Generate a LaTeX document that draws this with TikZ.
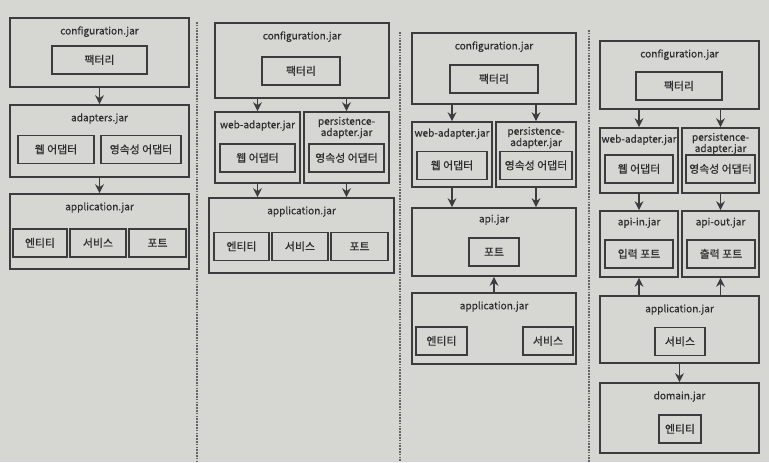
\documentclass[tikz,border=0pt]{standalone}
\usepackage{fontspec}
\usepackage{tikz}
\usetikzlibrary{arrows.meta, positioning, calc, fit}
\setmainfont{Noto Sans CJK KR}[FakeBold=0.5]
\definecolor{paper}{HTML}{D6D6D3}
\definecolor{boxline}{HTML}{3C3C3C}
\definecolor{inkgray}{HTML}{2E2E2E}

\begin{document}
\begin{tikzpicture}[
    x=0.03cm, y=-0.03cm,
    font=\fontsize{8.6}{9.6}\selectfont,
    jarbox/.style={rectangle, draw=boxline, line width=1.6pt, inner sep=0pt},
    partbox/.style={rectangle, draw=boxline, line width=1.6pt, inner sep=0pt, text=inkgray, font=\fontsize{9.3}{10}\selectfont, text height=7.9pt, text depth=1.2pt, minimum height=0.84cm},
    jarname/.style={inner sep=0pt, align=center, text=inkgray},
    arrow/.style={-{Stealth[length=7.5pt, width=7.5pt]}, line width=1.6pt, boxline},
    divider/.style={boxline!80, line width=0.9pt, dash pattern=on 1.4pt off 1pt}
]

\fill[paper] (0,0) rectangle (769,462);
\useasboundingbox (0,0) rectangle (769,462);

% Dividers
\draw[divider] (197,22) -- (197,462);
\draw[divider] (400,32) -- (400,462);
\draw[divider] (589,30) -- (589,462);

% Column 1
\node[jarbox, fit={(10,18) (189,87)}] (conf1) {};
\node[jarname, below=0.27cm of conf1.north] (conf1name) {configuration.jar};
\node[fit={(52,47) (147,73)}, partbox] (fac1) {팩터리};
\node[jarbox, fit={(10,105) (189,177)}] (adp1) {};
\node[jarname, below=0.27cm of adp1.north] (adp1name) {adapters.jar};
\node[fit={(18,135) (94,164)}, partbox] (web1) {웹 어댑터};
\node[fit={(101,135) (181,164)}, partbox] (per1) {영속성 어댑터};
\node[jarbox, fit={(10,194) (189,269)}] (app1) {};
\node[jarname, below=0.27cm of app1.north] (app1name) {application.jar};
\node[fit={(13,228) (67,258)}, partbox] (ent1) {엔티티};
\node[fit={(70,228) (126,258)}, partbox] (svc1) {서비스};
\node[fit={(129,228) (186,258)}, partbox] (prt1) {포트};

\draw[arrow] (conf1.south) -- (adp1.north);
\draw[arrow] (adp1.south) -- (app1.north);

% Column 2
\node[jarbox, fit={(215,23) (389,98)}] (conf2) {};
\node[jarname, below=0.27cm of conf2.north] (conf2name) {configuration.jar};
\node[fit={(262,55) (340,87)}, partbox] (fac2) {팩터리};
\node[jarbox, fit={(215,112) (300,183)}] (web2) {};
\node[jarname, below=0.27cm of web2.north] (web2name) {web-adapter.jar};
\node[fit={(220,144) (295,172)}, partbox] (wad2) {웹 어댑터};
\node[jarbox, fit={(304,112) (389,183)}] (per2) {};
\node[jarname, below=0.17cm of per2.north] (per2name) {persistence-\\adapter.jar};
\node[fit={(309,144) (384,172)}, partbox] (pad2) {영속성 어댑터};
\node[jarbox, fit={(209,198) (394,273)}] (app2) {};
\node[jarname, below=0.27cm of app2.north] (app2name) {application.jar};
\node[fit={(214,232) (269,261)}, partbox] (ent2) {엔티티};
\node[fit={(272,232) (328,261)}, partbox] (svc2) {서비스};
\node[fit={(331,232) (388,261)}, partbox] (prt2) {포트};

\draw[arrow] (conf2.south -| web2) -- (web2.north);
\draw[arrow] (conf2.south -| per2) -- (per2.north);
\draw[arrow] (web2.south) -- (web2.south |- app2.north);
\draw[arrow] (per2.south) -- (per2.south |- app2.north);

% Column 3
\node[jarbox, fit={(412,33) (576,104)}] (conf3) {};
\node[jarname, below=0.27cm of conf3.north] (conf3name) {configuration.jar};
\node[fit={(450,65) (538,93)}, partbox] (fac3) {팩터리};
\node[jarbox, fit={(412,122) (492,187)}] (web3) {};
\node[jarname, below=0.22cm of web3.north] (web3name) {web-adapter.jar};
\node[fit={(417,152) (487,179)}, partbox] (wad3) {웹 어댑터};
\node[jarbox, fit={(496,122) (576,187)}] (per3) {};
\node[jarname, below=0.17cm of per3.north] (per3name) {persistence-\\adapter.jar};
\node[fit={(500,152) (572,179)}, partbox] (pad3) {영속성 어댑터};
\node[jarbox, fit={(412,208) (576,276)}] (api3) {};
\node[jarname, below=0.22cm of api3.north] (api3name) {api.jar};
\node[fit={(469,238) (519,266)}, partbox] (prt3) {포트};
\node[jarbox, fit={(412,293) (576,364)}] (app3) {};
\node[jarname, below=0.27cm of app3.north] (app3name) {application.jar};
\node[fit={(416,326) (467,356)}, partbox] (ent3) {엔티티};
\node[fit={(523,326) (573,356)}, partbox] (svc3) {서비스};

\draw[arrow] (conf3.south -| web3) -- (web3.north);
\draw[arrow] (conf3.south -| per3) -- (per3.north);
\draw[arrow] (web3.south) -- (web3.south |- api3.north);
\draw[arrow] (per3.south) -- (per3.south |- api3.north);
\draw[arrow] (app3.north) -- (api3.south);

% Column 4
\node[jarbox, fit={(600,41) (759,109)}] (conf4) {};
\node[jarname, below=0.27cm of conf4.north] (conf4name) {configuration.jar};
\node[fit={(636,73) (722,99)}, partbox] (fac4) {팩터리};
\node[jarbox, fit={(600,128) (678,193)}] (web4) {};
\node[jarname, below=0.22cm of web4.north] (web4name) {web-adapter.jar};
\node[fit={(605,155) (673,183)}, partbox] (wad4) {웹 어댑터};
\node[jarbox, fit={(682,128) (759,193)}] (per4) {};
\node[jarname, below=0.17cm of per4.north] (per4name) {persistence-\\adapter.jar};
\node[fit={(686,155) (755,183)}, partbox] (pad4) {영속성 어댑터};
\node[jarbox, fit={(600,211) (678,277)}] (apiin4) {};
\node[jarname, below=0.22cm of apiin4.north] (apiin4name) {api-in.jar};
\node[fit={(605,240) (673,268)}, partbox] (inp4) {입력 포트};
\node[jarbox, fit={(682,211) (759,277)}] (apiout4) {};
\node[jarname, below=0.22cm of apiout4.north] (apiout4name) {api-out.jar};
\node[fit={(687,240) (755,268)}, partbox] (outp4) {출력 포트};
\node[jarbox, fit={(600,296) (759,363)}] (app4) {};
\node[jarname, below=0.27cm of app4.north] (app4name) {application.jar};
\node[fit={(655,328) (705,355)}, partbox] (svc4) {서비스};
\node[jarbox, fit={(600,383) (759,453)}] (dom4) {};
\node[jarname, below=0.27cm of dom4.north] (dom4name) {domain.jar};
\node[fit={(659,415) (701,443)}, partbox] (ent4) {엔티티};

\draw[arrow] (conf4.south -| web4) -- (web4.north);
\draw[arrow] (conf4.south -| per4) -- (per4.north);
\draw[arrow] (web4.south) -- (apiin4.north);
\draw[arrow] (per4.south) -- (apiout4.north);
\draw[arrow] (app4.north -| apiin4) -- (apiin4.south);
\draw[arrow] (app4.north -| apiout4) -- (apiout4.south);
\draw[arrow] (app4.south) -- (dom4.north);

\end{tikzpicture}
\end{document}
